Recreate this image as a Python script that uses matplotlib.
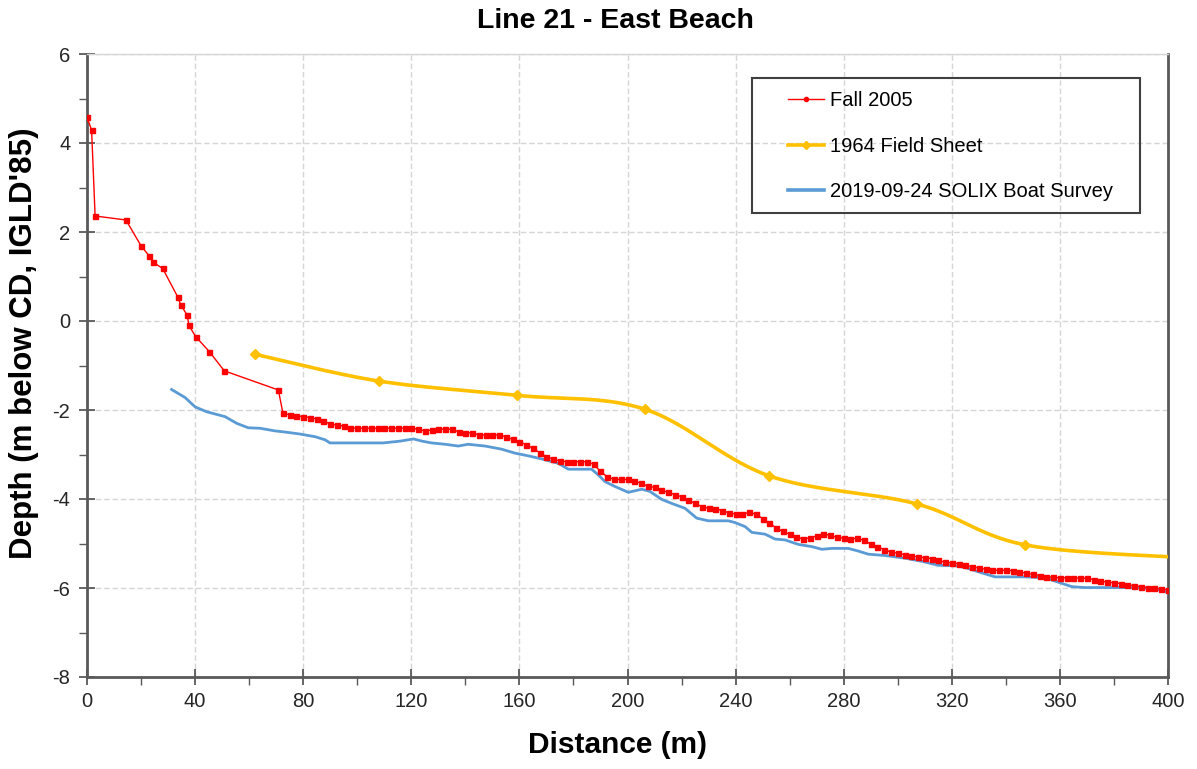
"""Line 21 - East Beach depth profiles"""

import numpy as np
import matplotlib
matplotlib.use('Agg')
import matplotlib.pyplot as plt
from matplotlib.patches import Rectangle

plt.rcParams['font.family'] = ['Liberation Sans', 'DejaVu Sans']
plt.rcParams['axes.unicode_minus'] = False

# Fall 2005 - sparse points up to the drop-off
fall_x_start = [0.0, 1.7, 3.0, 14.4, 20.0, 22.9, 24.5, 28.0, 33.5, 34.7, 37.1, 37.7,
                40.2, 45.3, 50.8, 70.8]
fall_y_start = [4.58, 4.29, 2.36, 2.27, 1.69, 1.47, 1.32, 1.18, 0.55, 0.36, 0.13, -0.10,
                -0.35, -0.69, -1.12, -1.55]

# Fall 2005 - dense soundings every 2.5 m from 72.5 m
fall_dense_start = 72.5
fall_dense_step = 2.5
fall_y_dense = [
    -2.07, -2.11, -2.13, -2.15, -2.17, -2.20, -2.24, -2.32, -2.34, -2.36,   # 72.5
    -2.40, -2.41, -2.41, -2.41, -2.41, -2.41, -2.41, -2.41, -2.41, -2.41,   # 97.5
    -2.43, -2.47, -2.45, -2.43, -2.43, -2.43, -2.49, -2.52, -2.51, -2.56,   # 122.5
    -2.56, -2.56, -2.56, -2.60, -2.66, -2.71, -2.78, -2.86, -2.96, -3.05,   # 147.5
    -3.10, -3.15, -3.16, -3.16, -3.16, -3.16, -3.22, -3.38, -3.50, -3.56,   # 172.5
    -3.56, -3.56, -3.59, -3.65, -3.71, -3.74, -3.80, -3.85, -3.90, -3.95,   # 197.5
    -4.02, -4.10, -4.17, -4.21, -4.22, -4.26, -4.31, -4.34, -4.34, -4.30,   # 222.5
    -4.34, -4.44, -4.54, -4.65, -4.73, -4.79, -4.85, -4.90, -4.87, -4.83,   # 247.5
    -4.78, -4.82, -4.86, -4.88, -4.90, -4.88, -4.93, -5.01, -5.07, -5.14,   # 272.5
    -5.19, -5.22, -5.25, -5.28, -5.30, -5.32, -5.34, -5.38, -5.42, -5.44,   # 297.5
    -5.45, -5.49, -5.52, -5.55, -5.58, -5.60, -5.60, -5.60, -5.61, -5.64,   # 322.5
    -5.67, -5.69, -5.72, -5.75, -5.76, -5.77, -5.77, -5.77, -5.78, -5.78,   # 347.5
    -5.81, -5.84, -5.87, -5.88, -5.90, -5.93, -5.95, -5.97, -5.99, -6.00,   # 372.5
    -6.02, -6.04,                                                           # 397.5
]

# 1964 field sheet
field_x = [62.3, 108.0, 159.1, 206.3, 252.4, 307.0, 347.1, 410.0]
field_y = [-0.75, -1.35, -1.67, -1.98, -3.48, -4.11, -5.03, -5.33]

# 2019-09-24 SOLIX boat survey
solix_x = [31.3, 36.3, 40.0, 44.3, 51.1, 55.4, 59.7, 64.0, 69.6, 72.6, 78.8, 84.4,
           88.1, 89.9, 109.6, 115.8, 120.8, 124.0, 127.5, 132.5, 137.4, 141.0, 147.3,
           153.4, 158.4, 163.3, 168.3, 174.4, 178.1, 186.7, 189.2, 191.7, 195.4, 200.3,
           205.3, 208.3, 212.7, 216.4, 221.3, 225.6, 229.9, 237.3, 239.8, 243.5, 246.0,
           250.9, 254.6, 258.3, 263.2, 268.2, 271.9, 275.6, 281.7, 285.4, 289.1, 295.3,
           302.7, 308.9, 315.0, 321.2, 324.9, 331.1, 336.0, 347.0, 354.5, 359.4, 364.4,
           369.3, 384.1, 391.5, 396.4, 400.0]
solix_y = [-1.54, -1.72, -1.93, -2.04, -2.15, -2.30, -2.40, -2.41, -2.47, -2.49, -2.54, -2.60,
           -2.67, -2.74, -2.74, -2.70, -2.65, -2.70, -2.74, -2.77, -2.81, -2.77, -2.81,
           -2.88, -2.97, -3.03, -3.10, -3.20, -3.33, -3.33, -3.46, -3.61, -3.72, -3.85,
           -3.78, -3.83, -4.01, -4.10, -4.21, -4.43, -4.49, -4.49, -4.53, -4.62, -4.75,
           -4.79, -4.90, -4.92, -5.02, -5.07, -5.13, -5.11, -5.11, -5.17, -5.24, -5.27,
           -5.33, -5.40, -5.49, -5.50, -5.54, -5.66, -5.75, -5.75, -5.77, -5.87, -5.97,
           -5.99, -5.99, -6.00, -6.04, -6.10]

x_ticks = [0, 40, 80, 120, 160, 200, 240, 280, 320, 360, 400]
y_ticks = [-8, -6, -4, -2, 0, 2, 4, 6]


def excel_smooth(x, y, n=40):
    """Bezier smoothing like a spreadsheet 'smoothed line' (display only)"""
    pts = np.column_stack([x, y]).astype(float)
    out = [pts[0]]
    t = np.linspace(0, 1, n)[1:, None]
    for i in range(len(pts) - 1):
        p0 = pts[i - 1] if i > 0 else pts[i]
        p1, p2 = pts[i], pts[i + 1]
        p3 = pts[i + 2] if i + 2 < len(pts) else pts[i + 1]
        c1 = p1 + (p2 - p0) / 6
        c2 = p2 - (p3 - p1) / 6
        seg = (1 - t)**3 * p1 + 3 * (1 - t)**2 * t * c1 + 3 * (1 - t) * t**2 * c2 + t**3 * p2
        out.extend(seg)
    out = np.array(out)
    return out[:, 0], out[:, 1]


fall_x = list(fall_x_start) + list(fall_dense_start + fall_dense_step * np.arange(len(fall_y_dense)))
fall_y = list(fall_y_start) + list(fall_y_dense)

W, H = 1197, 769
fig = plt.figure(figsize=(W / 100, H / 100), dpi=100)
ax = fig.add_axes([87 / W, 1 - 677 / H, (1168 - 87) / W, (677 - 54) / H])

# Series
ax.plot(solix_x, solix_y, color='#5b9bd5', lw=2.0, solid_joinstyle='round', zorder=3)
sx, sy = excel_smooth(field_x, field_y)
ax.plot(sx, sy, color='#ffc000', lw=2.6, solid_capstyle='round', zorder=4)
ax.plot(field_x, field_y, ls='none', marker='D', ms=5, color='#ffc000', zorder=4)
ax.plot(fall_x, fall_y, color='#ff0000', lw=1.0, marker='s', ms=3.6, mec='#ff0000',
        zorder=5)

ax.set_xlim(0, 400)
ax.set_ylim(-8, 6)
ax.set_xticks(x_ticks)
ax.set_yticks(y_ticks)
ax.set_xticks(np.arange(20, 400, 40), minor=True)
ax.set_yticks(np.arange(-7, 6, 2), minor=True)
ax.grid(True, which='major', color='#d6d6d6', lw=1.0, ls=(0, (4, 2)))
ax.set_axisbelow(True)

ax.tick_params(which='major', direction='inout', length=12, width=1.3, color='#595959',
               labelsize=14.5, labelcolor='#262626')
ax.tick_params(which='minor', direction='out', length=6, width=1.0, color='#595959')
ax.tick_params(axis='y', which='major', pad=6)
ax.tick_params(axis='x', which='major', pad=5)

for side in ['left', 'bottom', 'right']:
    ax.spines[side].set_color('#595959')
    ax.spines[side].set_linewidth(2.0)
ax.spines['top'].set_color('#d6d6d6')
ax.spines['top'].set_linewidth(1.0)

ax.set_xlabel('Distance (m)', fontsize=21.5, fontweight='bold')
ax.set_ylabel("Depth (m below CD, IGLD'85)", fontsize=22.5, fontweight='bold')
ax.xaxis.set_label_coords((618 - 87) / 1081, (677 - 731) / 623)
ax.yaxis.set_label_coords((39 - 87) / 1081, (677 - 343) / 623)
fig.text(615 / W, 1 - 21 / H, 'Line 21 - East Beach', ha='center', va='center',
         fontsize=20.5, fontweight='bold')

# Legend (frame drawn separately)
h_fall, = ax.plot([], [], color='#ff0000', lw=1.0, marker='o', ms=3)
h_field, = ax.plot([], [], color='#ffc000', lw=2.6, marker='D', ms=4.5)
h_solix, = ax.plot([], [], color='#5b9bd5', lw=2.6)
leg = fig.legend([h_fall, h_field, h_solix],
                 ['Fall 2005', '1964 Field Sheet', '2019-09-24 SOLIX Boat Survey'],
                 loc='upper left', bbox_to_anchor=(788 / W, 1 - 91 / H), frameon=False,
                 fontsize=14.5, numpoints=1, handlelength=1.8, handletextpad=0.3,
                 labelspacing=1.32, borderpad=0, borderaxespad=0)
fig.add_artist(Rectangle((752 / W, 1 - 213 / H), (1140 - 752) / W, (213 - 78) / H,
                         transform=fig.transFigure, facecolor='none', edgecolor='#404040',
                         lw=1.5))

fig.savefig('out.png', dpi=100)
